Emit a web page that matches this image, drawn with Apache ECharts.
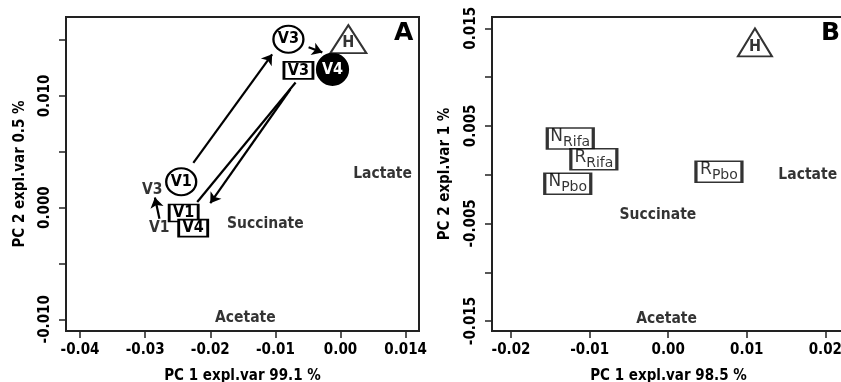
<!DOCTYPE html>
<html>
<head>
<meta charset="utf-8">
<script src="https://cdn.jsdelivr.net/npm/echarts@6.0.0/dist/echarts.min.js"></script>
<style>
  html, body { margin: 0; padding: 0; background: #fff; }
  #chart { width: 841px; height: 382px; }
</style>
</head>
<body>
<div id="chart"></div>
<script>
// ---- panel A data ----
const aCircleNames = ['V1', 'V3']
const aCircleX = [-0.02446, -0.0080]
const aCircleY = [0.00231, 0.01508]

const aBoxNames = ['V1', 'V4', 'V3']
const aBoxX = [-0.02408, -0.02262, -0.00646]
const aBoxY = [-0.00048, -0.00183, 0.01229]

const aFilledNames = ['V4']
const aFilledX = [-0.00123]
const aFilledY = [0.01238]

const aTriNames = ['H']
const aTriX = [0.0012]
const aTriY = [0.01508]

const aTextNames = ['V3', 'V1', 'Lactate', 'Succinate', 'Acetate']
const aTextX = [-0.02892, -0.02785, 0.00646, -0.01154, -0.01462]
const aTextY = [0.00159, -0.00183, 0.00303, -0.00147, -0.00992]

// arrows: from (x1,y1) to (x2,y2), head = whether an arrowhead is drawn
const aArrowX1 = [-0.0226, -0.0049, -0.0069, -0.0077, -0.0278]
const aArrowY1 = [0.0040, 0.01436, 0.0112, 0.0106, -0.0010]
const aArrowX2 = [-0.0105, -0.0028, -0.0220, -0.0200, -0.0285]
const aArrowY2 = [0.01373, 0.0139, 0.0005, 0.0004, 0.0009]
const aArrowHead = [true, true, false, true, true]

const aXTicks = [-0.04, -0.03, -0.02, -0.01, 0, 0.01]
const aXLabels = ['-0.04', '-0.03', '-0.02', '-0.01', '0.00', '0.014']
const aYTicks = [-0.015, -0.01, -0.005, 0, 0.005, 0.01, 0.015]
const aYLabelVals = [-0.01, 0, 0.01]
const aYLabels = ['-0.010', '0.000', '0.010']

// ---- panel B data ----
const bBoxNames = ['N|Rifa', 'R|Rifa', 'N|Pbo', 'R|Pbo']
const bBoxX = [-0.01246, -0.00946, -0.01278, 0.00646]
const bBoxY = [0.00372, 0.00157, -0.00094, 0.00029]

const bTriNames = ['H']
const bTriX = [0.01104]
const bTriY = [0.01355]

const bTextNames = ['Lactate', 'Succinate', 'Acetate']
const bTextX = [0.01776, -0.00131, -0.0002]
const bTextY = [-0.00007, -0.00417, -0.01475]

const bXTicks = [-0.02, -0.01, 0, 0.01, 0.02]
const bXLabels = ['-0.02', '-0.01', '0.00', '0.01', '0.02']
const bYTicks = [-0.015, -0.01, -0.005, 0, 0.005, 0.01, 0.015]
const bYLabelVals = [-0.015, -0.005, 0.005, 0.015]
const bYLabels = ['-0.015', '-0.005', '0.005', '0.015']

const FONT = 'DejaVu Sans Condensed'
const INK = '#000'

const zip = (xs, ys, names) => xs.map((x, i) => ({value: [x, ys[i]], name: names[i]}))
const lookup = (vals, labels) => v => {
  const i = vals.findIndex(t => Math.abs(t - v) < 1e-9)
  return i < 0 ? '' : labels[i]
}

const axisLine = {show: true, onZero: false, lineStyle: {color: '#222', width: 2}}

const makeX = (grid, min, max, ticks, labels, name) => ({
  gridIndex: grid, type: 'value', min, max,
  axisLine,
  axisTick: {show: true, length: 7, customValues: ticks, lineStyle: {color: '#222', width: 1.5}},
  axisLabel: {customValues: ticks, formatter: lookup(ticks, labels), margin: 12,
    fontFamily: FONT, fontWeight: 'bold', fontSize: 15, color: INK},
  splitLine: {show: false},
  name, nameLocation: 'middle', nameGap: 38,
  nameTextStyle: {fontFamily: FONT, fontWeight: 'bold', fontSize: 15, color: INK}
})

const makeY = (grid, min, max, ticks, labelVals, labels, name, gap) => ({
  gridIndex: grid, type: 'value', min, max,
  axisLine,
  axisTick: {show: true, length: 7, customValues: ticks, lineStyle: {color: '#222', width: 1.5}},
  axisLabel: {customValues: labelVals, formatter: lookup(labelVals, labels), rotate: 90, margin: 13,
    fontFamily: FONT, fontWeight: 'bold', fontSize: 15, color: INK},
  splitLine: {show: false},
  name, nameLocation: 'middle', nameGap: gap,
  nameTextStyle: {fontFamily: FONT, fontWeight: 'bold', fontSize: 15, color: INK}
})

const textLabel = (size, color) => ({
  show: true, position: 'inside', formatter: '{b}',
  fontFamily: FONT, fontWeight: 'bold', fontSize: size || 15, color: color || INK
})

const markerSeries = (g, data, symbol, size, fill, textColor) => ({
  type: 'scatter', xAxisIndex: g, yAxisIndex: g, data, symbol, symbolSize: size,
  itemStyle: {color: fill || '#fff', borderColor: '#000', borderWidth: 2.2, opacity: 1},
  label: textLabel(16, textColor), z: 5, silent: true
})

const arrowSeries = (g, x1, y1, x2, y2, head) => x1.map((x, i) => ({
  type: 'lines', coordinateSystem: 'cartesian2d', xAxisIndex: g, yAxisIndex: g,
  symbol: ['none', head[i] ? 'arrow' : 'none'], symbolSize: 10,
  lineStyle: {color: '#000', width: 2.2, opacity: 1},
  data: [{coords: [[x, y1[i]], [x2[i], y2[i]]]}], z: 3, silent: true
}))

const chart = echarts.init(document.getElementById('chart'), null, {renderer: 'canvas'})

const option = {
  animation: false,
  backgroundColor: '#fff',
  grid: [
    {left: 66, top: 17, width: 353, height: 314, show: true, borderColor: '#222', borderWidth: 2,
      containLabel: false, outerBoundsMode: 'none'},
    {left: 492, top: 17, width: 353, height: 314, show: true, borderColor: '#222', borderWidth: 2,
      containLabel: false, outerBoundsMode: 'none'}
  ],
  xAxis: [
    makeX(0, -0.04215, 0.01205, aXTicks, aXLabels, 'PC 1 expl.var 99.1 %'),
    makeX(1, -0.02242, 0.0225, bXTicks, bXLabels, 'PC 1 expl.var 98.5 %')
  ],
  yAxis: [
    makeY(0, -0.01105, 0.01707, aYTicks, aYLabelVals, aYLabels, 'PC 2 expl.var 0.5 %', 38),
    makeY(1, -0.01602, 0.01616, bYTicks, bYLabelVals, bYLabels, 'PC 2 expl.var 1 %', 39)
  ],
  graphic: [
    {type: 'text', left: 394, top: 21, style: {text: 'A', font: 'bold 25px "DejaVu Sans"', fill: INK}},
    {type: 'text', left: 821, top: 21, style: {text: 'B', font: 'bold 25px "DejaVu Sans"', fill: INK}}
  ],
  series: [
    ...arrowSeries(0, aArrowX1, aArrowY1, aArrowX2, aArrowY2, aArrowHead),
    markerSeries(0, zip(aCircleX, aCircleY, aCircleNames), 'circle', [30, 27]),
    markerSeries(0, zip(aBoxX, aBoxY, aBoxNames), 'rect', [29, 17]),
    markerSeries(0, zip(aFilledX, aFilledY, aFilledNames), 'circle', 31, '#000', '#fff'),
    {
      type: 'scatter', xAxisIndex: 0, yAxisIndex: 0, symbol: 'triangle', symbolSize: [36, 28],
      data: zip(aTriX, aTriY, aTriNames),
      itemStyle: {color: '#fff', borderColor: '#000', borderWidth: 2},
      label: {...textLabel(16), offset: [0, 4]}, z: 5, silent: true
    },
    {
      type: 'scatter', xAxisIndex: 0, yAxisIndex: 0, symbolSize: 0,
      data: zip(aTextX, aTextY, aTextNames), label: textLabel(15.5), z: 6, silent: true
    },
    {
      type: 'scatter', xAxisIndex: 1, yAxisIndex: 1, symbol: 'rect', symbolSize: [46, 21],
      data: zip(bBoxX, bBoxY, bBoxNames),
      itemStyle: {color: '#fff', borderColor: '#000', borderWidth: 2.2},
      label: {
        show: true, position: 'inside',
        formatter: p => {
          const [big, sub] = p.name.split('|')
          return '{b|' + big + '}{s|' + sub + '}'
        },
        rich: {
          b: {fontFamily: 'DejaVu Sans', fontWeight: 500, fontSize: 17, color: INK, verticalAlign: 'top', padding: [0, 0, 4, 0]},
          s: {fontFamily: 'DejaVu Sans', fontWeight: 500, fontSize: 14, color: INK, verticalAlign: 'bottom', padding: [7, 0, 0, 0]}
        }
      }, z: 5, silent: true
    },
    {
      type: 'scatter', xAxisIndex: 1, yAxisIndex: 1, symbol: 'triangle', symbolSize: [34, 28],
      data: zip(bTriX, bTriY, bTriNames),
      itemStyle: {color: '#fff', borderColor: '#000', borderWidth: 2},
      label: {...textLabel(16), offset: [0, 4]}, z: 5, silent: true
    },
    {
      type: 'scatter', xAxisIndex: 1, yAxisIndex: 1, symbolSize: 0,
      data: zip(bTextX, bTextY, bTextNames), label: textLabel(15.5), z: 6, silent: true
    }
  ]
}

chart.setOption(option)
</script>
</body>
</html>
